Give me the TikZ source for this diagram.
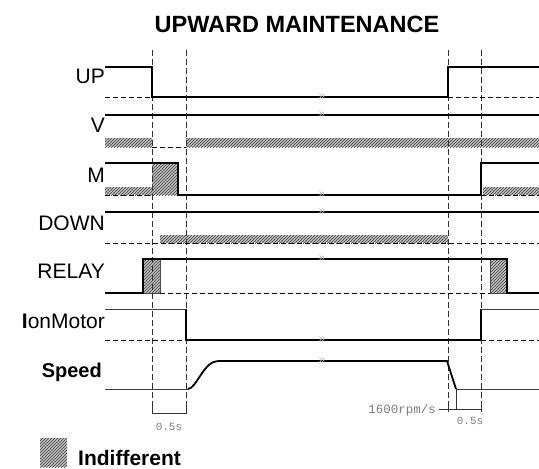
\documentclass[tikz,border=0pt]{standalone}
\usepackage{fontspec}
\setmainfont{Liberation Sans}
\setmonofont{Liberation Mono}
\usetikzlibrary{patterns}
\begin{document}
\begin{tikzpicture}[x=1pt,y=-1pt,
    sig/.style={black,line width=1.8pt},
    thinsig/.style={black!75,line width=1pt},
    base/.style={black,line width=0.8pt,dash pattern=on 5pt off 3pt},
    guide/.style={black!80,line width=0.8pt,dash pattern=on 6pt off 3pt},
    hatch/.style={fill=gray!50,postaction={pattern=north east lines,pattern color=gray!50!black}},
    lbl/.style={anchor=base east,inner sep=0pt,font=\fontsize{21}{21}\selectfont},
    note/.style={text=gray,inner sep=0pt,font=\ttfamily\fontsize{11}{11}\selectfont},
    brk/.style={text=gray!60,inner sep=0pt,font=\fontsize{12}{12}\selectfont}]
    \useasboundingbox (0,0) rectangle (539,469);
    \node[anchor=base,inner sep=0pt,font=\bfseries\fontsize{23.5}{23.5}\selectfont] (title) at (297,32) {UPWARD MAINTENANCE};
    % names
    \node[lbl] (up) at (105,83) {UP};
    \node[lbl] (v) at (105,132) {V};
    \node[lbl] (m) at (105,182) {M};
    \node[lbl] (down) at (105,230) {DOWN};
    \node[lbl] (relay) at (105,278) {RELAY};
    \node[lbl] (ion) at (105,328) {\textbf{I}onMotor};
    \node[lbl,font=\bfseries\fontsize{20}{20}\selectfont] (speed) at (102,377) {Speed};
    % indifferent zones
    \path[hatch] (105,138) rectangle (152,147);
    \path[hatch] (186,138) rectangle (539,147);
    \path[hatch] (105,187) rectangle (152,195);
    \path[hatch] (152,163) rectangle (178,195);
    \path[hatch] (483,187) rectangle (539,195);
    \path[hatch] (160,235) rectangle (448,243);
    \path[hatch,draw=black!70,line width=0.8pt] (143,259) rectangle (160,293);
    \path[hatch,draw=black!70,line width=0.8pt] (490,259) rectangle (507,293);
    % time marks
    \foreach \x in {152,186} \draw[guide] (\x,50) -- (\x,413);
    \foreach \x in {448,481} \draw[guide] (\x,50) -- (\x,409);
    % UP
    \draw[sig] (105,67) -- (152,67) -- (152,97) -- (448,97) -- (448,67) -- (539,67);
    \draw[base] (105,97) -- (152,97);
    \draw[base] (448,97) -- (539,97);
    % V
    \draw[sig] (105,115) -- (539,115);
    \draw[base] (152,147) -- (186,147);
    % M
    \draw[sig] (105,163) -- (178,163) -- (178,195) -- (481,195) -- (481,163) -- (539,163);
    \draw[base] (105,195) -- (152,195);
    \draw[base] (481,195) -- (539,195);
    % DOWN
    \draw[sig] (105,212) -- (539,212);
    \draw[base] (105,243) -- (539,243);
    % RELAY
    \draw[sig] (105,293) -- (143,293) -- (143,259) -- (507,259) -- (507,293) -- (539,293);
    \draw[base] (160,293) -- (490,293);
    % IonMotor
    \draw[thinsig] (105,309) -- (186,309);
    \draw[sig] (186,309) -- (186,340) -- (481,340) -- (481,309);
    \draw[thinsig] (481,309) -- (539,309);
    \draw[base] (105,340) -- (186,340);
    \draw[base] (481,340) -- (539,340);
    % Speed
    \draw[thinsig] (105,389) -- (188,389);
    \draw[sig] (188,389) .. controls (196,389) and (204,361) .. (218,361) -- (447,361) -- (456,389);
    \draw[thinsig] (456,389) -- (539,389);
    \foreach \y in {97,115,195,212,259,340,361} \node[brk] at (322,\y) {»};
    % delays
    \draw[black!80,line width=0.8pt] (152,403) -- (152,413) -- (186,413) -- (186,403);
    \node[note] (dl) at (169,427) {0.5s};
    \draw[black!80,line width=0.8pt] (439,409) -- (481,409);
    \draw[black!80,line width=0.8pt] (456,389) -- (456,409);
    \draw[black!80,line width=0.8pt] (448,404) -- (448,412);
    \draw[black!80,line width=0.8pt] (481,404) -- (481,412);
    \node[note,anchor=east,font=\ttfamily\fontsize{12.5}{12.5}\selectfont] (rate) at (436,410) {1600rpm/s};
    \node[note] (dr) at (470,421) {0.5s};
    % legend
    \path[hatch] (40,438) rectangle (67,467);
    \node[anchor=base west,inner sep=0pt,font=\bfseries\fontsize{21}{21}\selectfont] (indiff) at (78,465) {Indifferent};
\end{tikzpicture}
\end{document}
